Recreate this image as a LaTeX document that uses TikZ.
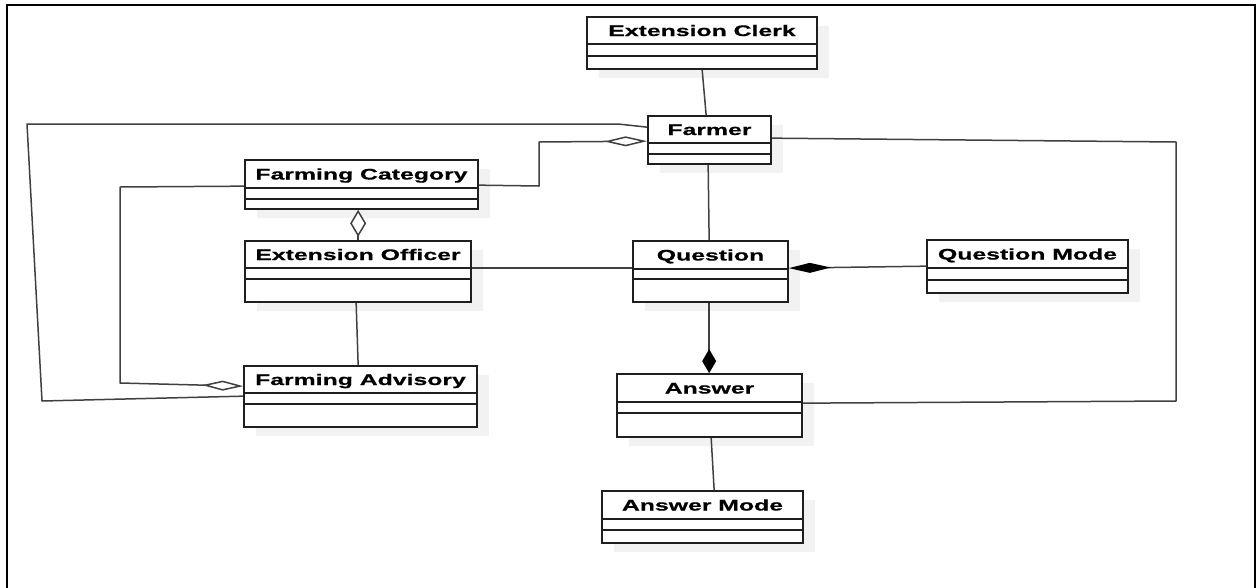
\documentclass[tikz,border=0pt]{standalone}
\usepackage{fontspec}
\newfontfamily\clsfont[FakeStretch=1.62, BoldFeatures={FakeBold=0.6}]{Liberation Sans}
\usetikzlibrary{arrows.meta,calc,fit}

% UML class box: name, x1, y1, x2, y2, first divider, second divider, title
\newcommand\umlclass[8]{%
  \fill[gray!10] (#2+12,#3+9) rectangle (#4+12,#5+9);
  \node[fit={(#2,#3)(#4,#5)}, inner sep=0pt, fill=white, boxline] (#1) {};
  \node[clsname, anchor=base] at ({(#2+#4)/2},{(#3+#6)/2+5.5}) {#8};
  \draw[boxline] (#2,#6) -- (#4,#6) (#2,#7) -- (#4,#7);
}

\begin{document}
\begin{tikzpicture}[x=1pt,y=-1pt,
  boxline/.style={draw=black!88, line width=1.7pt},
  clsname/.style={font=\clsfont\bfseries\fontsize{15.3}{18}\selectfont, text=black, inner sep=0pt},
  assoc/.style={draw=black!75, line width=1.5pt, line join=round},
]
\useasboundingbox (0,0) rectangle (1257,587);

% page frame
\draw[line width=2.6pt] (7,590) -- (7,5) -- (1255,5) -- (1255,590);

% classes
\umlclass{clerk}{587}{17}{817}{69}{44}{56}{Extension Clerk}
\umlclass{farmer}{648}{116}{771}{164}{143}{154}{Farmer}
\umlclass{fcat}{245}{160}{478}{209}{188}{199}{Farming Category}
\umlclass{officer}{245}{241}{471}{302}{268}{279}{Extension Officer}
\umlclass{advisory}{244}{366}{477}{427}{393}{404}{Farming Advisory}
\umlclass{question}{633}{241}{788}{302}{269}{279}{Question}
\umlclass{qmode}{927}{240}{1128}{293}{268}{280}{Question Mode}
\umlclass{answer}{617}{374}{802}{437}{402}{413}{Answer}
\umlclass{amode}{602}{491}{803}{543}{519}{530}{Answer Mode}

% associations
\draw[assoc] ($(clerk.south west)+(116,0)$) -- ($(farmer.north west)+(59,0)$);
\draw[assoc] ($(farmer.south west)+(61,0)$) -- ($(question.north west)+(77,0)$);
\draw[assoc] ($(question.north west)+(0,28)$) -- ($(officer.north east)+(0,28)$);
\draw[assoc] ($(answer.south west)+(95,0)$) -- ($(amode.north west)+(113,0)$);
\draw[assoc] ($(officer.south west)+(112,0)$) -- ($(advisory.north west)+(115,0)$);
\draw[assoc] ($(advisory.north west)+(0,31)$) -- (42,401) -- (27,124) -- (618,124)
  -- ($(farmer.north west)+(0,12)$);
\draw[assoc] ($(farmer.north east)+(0,23)$) -- (1176,142) -- (1176,401)
  -- ($(answer.north east)+(0,30)$);

% compositions
\draw[assoc, -{Diamond[length=42pt,width=10pt,color=black,fill=black]}]
  ($(qmode.north west)+(0,27)$) -- ($(question.north east)+(0,28)$);
\draw[assoc, -{Diamond[length=24pt,width=14pt,color=black,fill=black]}]
  ($(question.south west)+(77,0)$) -- ($(answer.north west)+(93,0)$);

% aggregations
\draw[assoc, {Diamond[length=27pt,width=16pt,fill=white]}-]
  ($(fcat.south west)+(114,0)$) -- ($(officer.north west)+(114,0)$);
\draw[assoc, -{Diamond[length=43pt,width=10pt,fill=white]}]
  ($(fcat.north east)+(0,26)$) -- (539,186) -- (539,142) -- ($(farmer.north west)+(0,26)$);
\draw[assoc, -{Diamond[length=41pt,width=10pt,fill=white]}]
  ($(fcat.north west)+(0,27)$) -- (120,187) -- (120,383) -- ($(advisory.north west)+(0,21)$);
\end{tikzpicture}
\end{document}
